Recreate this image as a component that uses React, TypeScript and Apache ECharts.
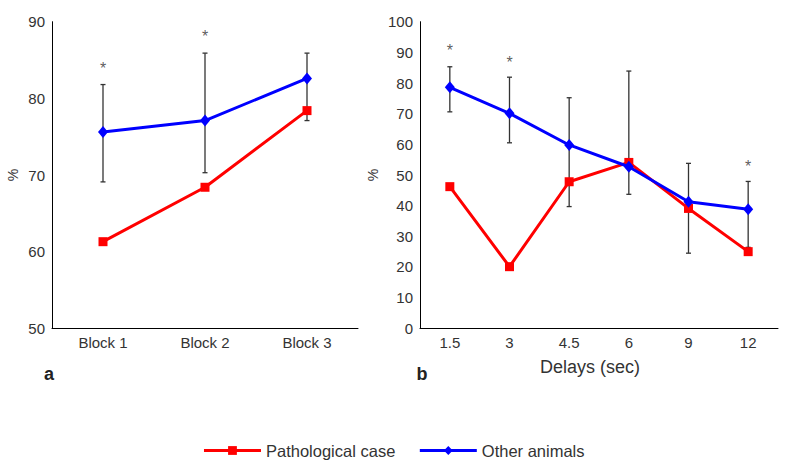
import React, { useEffect, useRef } from "react";
import * as echarts from "echarts";

const blocks = ["Block 1", "Block 2", "Block 3"];
const blockPathological = [61.3, 68.4, 78.4];
const blockOther = [75.6, 77.1, 82.6];
const blockErrLow = [69.1, 70.3, 77.1];
const blockErrHigh = [81.8, 85.9, 85.9];
const blockStars: (number | null)[] = [84.3, 88.4, null];

const delays = ["1.5", "3", "4.5", "6", "9", "12"];
const delayPathological = [46.2, 20.1, 47.8, 54.1, 39.1, 25.0];
const delayOther = [78.6, 70.1, 59.8, 52.7, 41.3, 38.8];
const delayErrLow = [70.6, 60.5, 39.7, 43.7, 24.5, 26.4];
const delayErrHigh = [85.3, 81.9, 75.2, 83.9, 53.8, 47.9];
const delayStars: (number | null)[] = [91.5, 87.7, null, null, null, 53.8];

const yTicksLeft = { min: 50, max: 90, interval: 10 };
const yTicksRight = { min: 0, max: 100, interval: 10 };

const FONT = "Liberation Sans, Arial, Helvetica, sans-serif";
const RED = "#ff0000";
const BLUE = "#0000ff";
const TXT = "#333333";

function errData(low: number[], high: number[]) {
  return low.map((l, i) => [i, l, high[i]]);
}
function starData(stars: (number | null)[]) {
  return stars.map((s, i) => (s == null ? null : [i, s])).filter((d) => d) as number[][];
}

const renderErr = (params: any, api: any) => {
  const x = api.value(0);
  const lo = api.coord([x, api.value(1)]);
  const hi = api.coord([x, api.value(2)]);
  const c = 2.5;
  const style = { stroke: "#333333", lineWidth: 1.3 };
  return {
    type: "group",
    children: [
      { type: "line", shape: { x1: lo[0], y1: lo[1], x2: hi[0], y2: hi[1] }, style },
      { type: "line", shape: { x1: lo[0] - c, y1: lo[1], x2: lo[0] + c, y2: lo[1] }, style },
      { type: "line", shape: { x1: hi[0] - c, y1: hi[1], x2: hi[0] + c, y2: hi[1] }, style },
    ],
  };
};

export default function App() {
  const ref = useRef<HTMLDivElement>(null);
  useEffect(() => {
    if (!ref.current) return;
    const chart = echarts.init(ref.current, null, { renderer: "svg" });
    const axisCommon = {
      axisLine: { lineStyle: { color: "#000", width: 1 } },
      axisTick: { inside: true, length: 3, lineStyle: { color: "#000" } },
      axisLabel: { color: TXT, fontSize: 15, fontFamily: FONT },
      splitLine: { show: false },
    };
    const redLine = (xi: number, data: number[]) => ({
      name: "Pathological case",
      type: "line",
      xAxisIndex: xi,
      yAxisIndex: xi,
      data,
      symbol: "rect",
      symbolSize: 9,
      itemStyle: { color: RED },
      lineStyle: { color: RED, width: 3 },
      z: 3,
    });
    const blueLine = (xi: number, data: number[]) => ({
      name: "Other animals",
      type: "line",
      xAxisIndex: xi,
      yAxisIndex: xi,
      data,
      symbol: "diamond",
      symbolSize: [10, 12],
      itemStyle: { color: BLUE },
      lineStyle: { color: BLUE, width: 3 },
      z: 4,
    });
    const errSeries = (xi: number, d: number[][]) => ({
      type: "custom",
      xAxisIndex: xi,
      yAxisIndex: xi,
      data: d,
      renderItem: renderErr,
      z: 2,
      silent: true,
    });
    const starSeries = (xi: number, d: number[][]) => ({
      type: "scatter",
      xAxisIndex: xi,
      yAxisIndex: xi,
      data: d,
      symbolSize: 0,
      silent: true,
      label: {
        show: true,
        position: "inside",
        formatter: "*",
        color: TXT,
        fontSize: 16,
        fontFamily: FONT,
        offset: [0, 3],
      },
      z: 5,
    });
    chart.setOption({
      animation: false,
      textStyle: { fontFamily: FONT },
      grid: [
        { left: 52, top: 21.7, width: 306, height: 306.6, containLabel: false },
        { left: 420, top: 21.7, width: 358, height: 306.6, containLabel: false },
      ],
      xAxis: [
        { type: "category", gridIndex: 0, data: blocks, boundaryGap: true, ...axisCommon, axisTick: { ...axisCommon.axisTick, alignWithLabel: true }, axisLabel: { ...axisCommon.axisLabel, margin: 7 } },
        { type: "category", gridIndex: 1, data: delays, boundaryGap: true, ...axisCommon, axisTick: { ...axisCommon.axisTick, alignWithLabel: true }, axisLabel: { ...axisCommon.axisLabel, margin: 7 } },
      ],
      yAxis: [
        { type: "value", gridIndex: 0, ...yTicksLeft, ...axisCommon, axisLine: { show: true, lineStyle: { color: "#000" } }, axisLabel: { ...axisCommon.axisLabel, margin: 7 } },
        { type: "value", gridIndex: 1, ...yTicksRight, ...axisCommon, axisLine: { show: true, lineStyle: { color: "#000" } }, axisLabel: { ...axisCommon.axisLabel, margin: 7 } },
      ],
      legend: {
        left: "center",
        top: 437,
        data: [
          { name: "Pathological case", lineStyle: { width: 3, color: RED } },
          { name: "Other animals", lineStyle: { width: 3, color: BLUE } },
        ],
        itemWidth: 57,
        itemHeight: 11,
        itemGap: 23,
        lineStyle: { width: 3 },
        textStyle: { color: TXT, fontSize: 16.5, fontFamily: FONT },
      },
      graphic: [
        { type: "text", x: 13, y: 175, rotation: Math.PI / 2, style: { text: "%", fill: TXT, font: `14px ${FONT}`, align: "center", verticalAlign: "middle" } },
        { type: "text", x: 373, y: 175, rotation: Math.PI / 2, style: { text: "%", fill: TXT, font: `14px ${FONT}`, align: "center", verticalAlign: "middle" } },
        { type: "text", x: 49, y: 374, style: { text: "a", fill: "#222", font: `bold 18px ${FONT}`, align: "center", verticalAlign: "middle" } },
        { type: "text", x: 422, y: 374, style: { text: "b", fill: "#222", font: `bold 18px ${FONT}`, align: "center", verticalAlign: "middle" } },
        { type: "text", x: 590, y: 367, style: { text: "Delays (sec)", fill: TXT, font: `18px ${FONT}`, align: "center", verticalAlign: "middle" } },
      ],
      series: [
        errSeries(0, errData(blockErrLow, blockErrHigh)),
        errSeries(1, errData(delayErrLow, delayErrHigh)),
        redLine(0, blockPathological),
        blueLine(0, blockOther),
        redLine(1, delayPathological),
        blueLine(1, delayOther),
        starSeries(0, starData(blockStars)),
        starSeries(1, starData(delayStars)),
      ],
    });
    return () => chart.dispose();
  }, []);
  return <div ref={ref} style={{ position: "absolute", left: 0, top: 0, width: 787, height: 462 }} />;
}
